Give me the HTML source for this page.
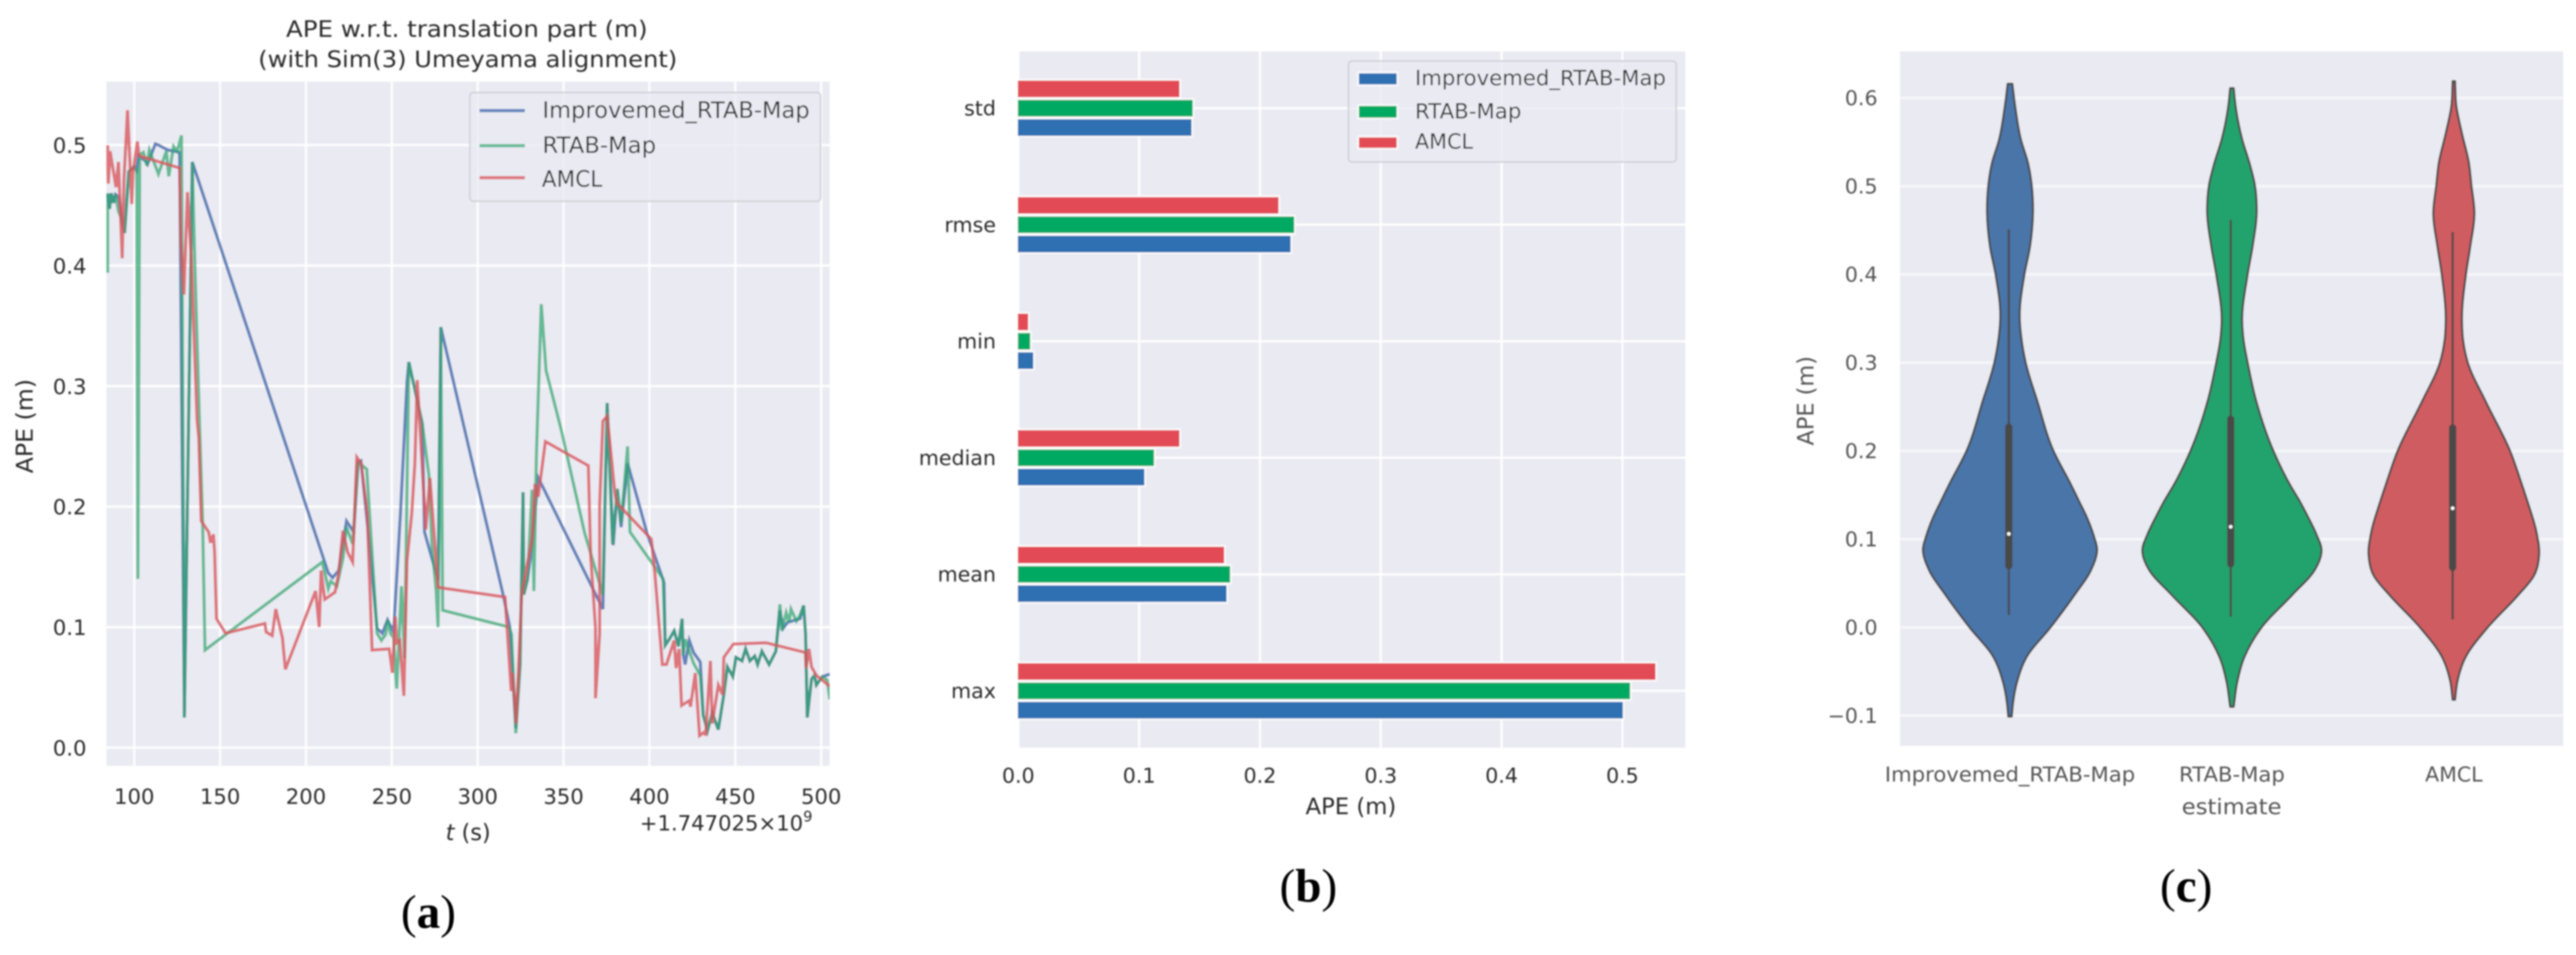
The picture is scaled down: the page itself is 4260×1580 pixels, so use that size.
<!DOCTYPE html>
<html lang="en">
<head>
<meta charset="utf-8">
<title>APE comparison charts</title>
<style>
html,body{margin:0;padding:0;background:#fff;width:4260px;height:1580px;overflow:hidden}
svg{display:block}
text{font-family:"DejaVu Sans","Liberation Sans",sans-serif;fill:#2a2a2a}
.c text,text.c{fill:#555}
.cap{font-family:"Liberation Serif",serif;font-size:78px;fill:#000}
</style>
</head>
<body>
<svg xmlns="http://www.w3.org/2000/svg" width="4260" height="1580" viewBox="0 0 4260 1580">
<defs>
<filter id="soft" filterUnits="userSpaceOnUse" x="0" y="0" width="4260" height="1580"><feGaussianBlur stdDeviation="1.2"/></filter>
<clipPath id="clipA"><rect x="176" y="135" width="1196" height="1132"/></clipPath>
</defs>
<g filter="url(#soft)">
<!-- chart a -->
<g>
<rect x="176" y="135" width="1196" height="1132" fill="#EAEAF2"/>
<g id="gridA"></g>
<g id="linesA" clip-path="url(#clipA)"></g>
<g id="ticksA"></g>
<text x="473" y="61" font-size="37" textLength="598" lengthAdjust="spacingAndGlyphs">APE w.r.t. translation part (m)</text>
<text x="427" y="111" font-size="37" textLength="693" lengthAdjust="spacingAndGlyphs">(with Sim(3) Umeyama alignment)</text>
<text transform="translate(54,783) rotate(-90)" font-size="38" textLength="156" lengthAdjust="spacingAndGlyphs">APE (m)</text>
<text x="737" y="1390" font-size="37"><tspan font-style="italic">t</tspan> (s)</text>
<text x="1058" y="1374" font-size="35">+1.747025×10<tspan font-size="24" dy="-15">9</tspan></text>
<g>
<rect x="777" y="153" width="580" height="180" rx="6" fill="#EAEAF2" fill-opacity="0.8" stroke="#cfcfd6" stroke-width="2.5"/>
<line x1="793" x2="868" y1="183" y2="183" stroke="#4C72B0" stroke-opacity="0.85" stroke-width="5.2"/>
<text x="897" y="195" font-size="37" textLength="442" lengthAdjust="spacingAndGlyphs">Improvemed_RTAB-Map</text>
<line x1="793" x2="868" y1="241" y2="241" stroke="#2CA56E" stroke-opacity="0.7" stroke-width="5.2"/>
<text x="897" y="253" font-size="37" textLength="188" lengthAdjust="spacingAndGlyphs">RTAB-Map</text>
<line x1="793" x2="868" y1="294" y2="294" stroke="#D9565C" stroke-opacity="0.8" stroke-width="5.2"/>
<text x="896" y="309" font-size="37" textLength="100" lengthAdjust="spacingAndGlyphs">AMCL</text>
</g>
</g>
<text class="cap" x="663" y="1535">(<tspan font-weight="bold">a</tspan>)</text>

<!-- chart b -->
<g>
<rect x="1684" y="85" width="1103" height="1152" fill="#EAEAF2"/>
<g id="gridB"></g>
<g id="barsB"></g>
<g id="ticksB"></g>
<text x="2159" y="1347" font-size="37" textLength="150" lengthAdjust="spacingAndGlyphs">APE (m)</text>
<g>
<rect x="2230" y="101" width="542" height="167" rx="6" fill="#EAEAF2" fill-opacity="0.8" stroke="#cfcfd6" stroke-width="2.5"/>
<rect x="2246" y="120" width="65" height="21" fill="#2E70B2" stroke="#fff" stroke-width="2.5"/>
<text x="2340" y="141" font-size="35" textLength="415" lengthAdjust="spacingAndGlyphs">Improvemed_RTAB-Map</text>
<rect x="2246" y="174" width="65" height="22" fill="#00A962" stroke="#fff" stroke-width="2.5"/>
<text x="2340" y="196" font-size="35" textLength="176" lengthAdjust="spacingAndGlyphs">RTAB-Map</text>
<rect x="2246" y="226" width="65" height="20" fill="#E24C54" stroke="#fff" stroke-width="2.5"/>
<text x="2340" y="246" font-size="35" textLength="96" lengthAdjust="spacingAndGlyphs">AMCL</text>
</g>
</g>
<text class="cap" x="2116" y="1492">(<tspan font-weight="bold">b</tspan>)</text>

<!-- chart c -->
<g class="c">
<rect x="3142" y="85" width="1097" height="1149" fill="#EAEAF2"/>
<g id="gridC"></g>
<g id="violinsC"></g>
<g id="ticksC"></g>
<text transform="translate(2999,737) rotate(-90)" font-size="37" textLength="148" lengthAdjust="spacingAndGlyphs">APE (m)</text>
<text x="3608" y="1347" font-size="36" textLength="165" lengthAdjust="spacingAndGlyphs">estimate</text>
</g>
<text class="cap" x="3572" y="1492">(<tspan font-weight="bold">c</tspan>)</text>
</g>
</svg>
<script>
// ---------- chart (a) data ----------
const aXTicks = [100,150,200,250,300,350,400,450,500];
const aYTicks = [0,0.1,0.2,0.3,0.4,0.5];

const improvedT = [84.5,85.6,86.6,88,89.1,90.8,94.4,96.8,100,101.4,102.5,106.3,107.7,109.9,112.3,114.1,119.4,126.4,129.2,133.8,213,215.5,219,223.6,227.8,230.4,232,236.6,241.4,244.4,247.5,251,255,258.8,259.9,267.7,269,276.9,278.5,314.8,318.7,322.2,324.7,326.4,326.8,328.9,331.7,335.2,336.3,372.9,375.4,378.9,381.3,383.5,387.3,398.6,408.5,409.2,411.6,414.4,416.9,419,419.7,420.8,423.2,425.7,429.6,431.3,433.8,436.6,440.1,443.3,445.4,448.6,450.4,453.9,456,458.5,461.3,463,465.5,469.7,473.6,476,477.8,480.5,487.7,489.8,490.9,491.9,494.4,496.1,497.2,500.7,505];
const improvedV = [.460,.447,.460,.452,.459,.457,.427,.478,.482,.479,.491,.487,.484,.492,.501,.500,.496,.494,.025,.486,.145,.141,.147,.188,.179,.237,.238,.174,.099,.095,.106,.096,.194,.303,.320,.269,.179,.139,.349,.127,.100,.016,.069,.212,.127,.139,.169,.224,.221,.115,.286,.168,.214,.183,.236,.178,.137,.085,.090,.097,.084,.107,.077,.069,.089,.079,.071,.027,.014,.029,.015,.044,.067,.059,.075,.072,.082,.072,.076,.069,.080,.069,.080,.114,.099,.104,.107,.118,.094,.025,.057,.060,.052,.059,.061];

const rtabT = [84.5,84.5,85.6,86.6,88,89.1,90.8,92.3,94.4,96.8,100,101.4,102.1,103.2,105.3,107.4,108.8,110.9,114.1,118.7,120.1,122.9,125,127.5,129.2,133.8,135.2,138,139.8,141.2,209.5,213,214.4,218,221.5,223.6,227.2,230.4,235.4,241.4,243.9,246.4,247.5,249.2,251,252.8,255.6,257.4,259.9,267.7,271.6,273.3,275.8,276.9,278.5,279.6,318.3,319.7,322.2,324.7,326.4,326.8,328.9,331.7,332.7,334.2,337,339.8,348.6,362.3,372.9,375.4,378.5,381.3,383.5,387.3,388.7,402.1,408,409.2,411.6,414.4,416.9,419,419.7,420.8,425.7,429.6,431.3,433.8,436.6,440.1,443.3,445.4,448.6,450.4,453.9,456,458.5,461.3,463,465.5,469.7,473.6,476,477.1,479.6,481.3,482.4,485.6,487.7,489.8,490.9,491.9,494.4,496.1,497.2,500.7,503.5,505];
const rtabV = [.394,.460,.447,.460,.452,.459,.445,.440,.427,.478,.482,.479,.140,.492,.494,.483,.496,.488,.476,.495,.474,.499,.495,.508,.025,.486,.405,.269,.189,.081,.154,.132,.138,.134,.157,.183,.169,.237,.231,.095,.089,.094,.106,.095,.091,.049,.134,.074,.320,.269,.226,.169,.130,.100,.349,.114,.100,.094,.012,.069,.212,.127,.139,.214,.130,.244,.368,.313,.264,.178,.127,.286,.169,.215,.186,.250,.179,.152,.140,.085,.090,.097,.084,.107,.077,.090,.070,.060,.027,.014,.029,.015,.044,.067,.059,.075,.072,.082,.072,.076,.069,.080,.069,.080,.119,.097,.112,.104,.115,.105,.110,.118,.094,.025,.057,.060,.052,.059,.056,.040];

const amclT = [84.5,84.9,85.9,89.4,90.8,93,94,96.1,98.6,99.3,101.8,102.8,126.4,127.1,128.9,131,133.1,136.6,137.6,139,143.3,144.4,146.1,146.8,147.9,153.2,176.1,176.8,180.3,182.4,186.3,188,205.6,207.7,208.8,210.9,216.9,219,221.5,224.3,227.2,229,229.6,232.1,235.7,238.5,248.5,250.3,252,252.8,254.6,257,258.8,261.6,263.4,264.8,269.8,272.2,276.9,315.9,319.5,320.2,322.4,325.6,331.7,333.4,335.2,339.4,364.4,365.8,368.6,368.6,371,371,372.9,375.4,379.9,381,401.1,403.2,407.5,409.9,414.4,415.5,417.3,418.7,423.2,423.9,426.7,429.2,432,432.7,435.5,436.6,440.1,442.6,443.3,448.9,467.9,490.8,491.2,492.9,494.4,497.2,505];
const amclV = [.500,.468,.495,.465,.486,.406,.471,.529,.451,.477,.503,.491,.481,.420,.376,.461,.410,.272,.257,.188,.179,.170,.177,.162,.107,.095,.103,.096,.093,.115,.091,.065,.130,.100,.147,.123,.129,.144,.180,.162,.154,.221,.241,.236,.193,.081,.082,.062,.109,.087,.089,.043,.155,.194,.236,.305,.181,.224,.133,.125,.047,.062,.020,.127,.174,.219,.208,.254,.234,.159,.099,.041,.094,.201,.271,.275,.211,.203,.173,.144,.069,.069,.089,.066,.082,.035,.039,.034,.062,.010,.013,.010,.072,.020,.052,.044,.075,.086,.087,.079,.066,.082,.067,.060,.051];

// ---------- chart (b) data ----------
const bCategories = ['std','rmse','min','median','mean','max'];
const bXTicks = [0,0.1,0.2,0.3,0.4,0.5];
const barImproved = [.144,.226,.013,.105,.173,.501];
const barRtab = [.145,.229,.0105,.113,.176,.507];
const barAmcl = [.134,.216,.0088,.134,.171,.528];

// ---------- chart (c) data ----------
const cCategories = ['Improvemed_RTAB-Map','RTAB-Map','AMCL'];
const cYTicks = [-0.1,0,0.1,0.2,0.3,0.4,0.5,0.6];
const violin1Levels = [.616,.588,.553,.526,.5,.47,.431,.4,.351,.327,.3,.257,.2,.163,.142,.125,.105,.089,.065,.037,0,-.033,-.061,-.086,-.101];
const violin1Density = [.027,.062,.123,.205,.247,.26,.226,.164,.11,.13,.178,.308,.493,.685,.788,.87,.945,.986,.918,.733,.459,.192,.082,.034,.02];
const violin2Levels = [.611,.588,.553,.526,.501,.473,.431,.4,.347,.327,.3,.257,.2,.163,.142,.125,.105,.089,.065,.037,0,-.033,-.061,-.09];
const violin2Density = [.02,.045,.116,.199,.26,.281,.233,.178,.116,.13,.178,.274,.47,.65,.774,.863,.959,1.014,.938,.685,.336,.144,.062,.02];
const violin3Levels = [.619,.592,.561,.526,.501,.47,.431,.4,.347,.327,.3,.257,.2,.163,.142,.107,.082,.058,.037,0,-.033,-.061,-.082];
const violin3Density = [.014,.027,.089,.171,.199,.233,.185,.137,.092,.103,.158,.356,.637,.767,.836,.938,.966,.904,.733,.384,.137,.041,.014];
const whiskerHigh = [.451,.462,.448];
const whiskerLow = [.014,.012,.009];
const boxHigh = [.227,.236,.226];
const boxLow = [.07,.072,.068];
const medians = [.106,.114,.135];

// ---------- helpers and axes ----------
const NS = 'http://www.w3.org/2000/svg';
function mk(tag, attrs, parent){
  const el = document.createElementNS(NS, tag);
  for (const k in attrs) el.setAttribute(k, attrs[k]);
  parent.appendChild(el);
  return el;
}
const xA = t => 222 + (t - 100) * 2.84;
const yA = v => 1237 - v * 1994;
const xB = v => 1684 + v * 1998;
const yB = i => 179 + i * 192.8;
const xC = i => 3324 + i * 367;
const yC = v => 1038 - v * 1460;
const halfC = d => d * 146;
const fmt1 = v => (v < 0 ? '\u2212' + Math.abs(v).toFixed(1) : v.toFixed(1));

// ---------- chart (a) ----------
const gridA = document.getElementById('gridA');
const ticksA = document.getElementById('ticksA');
aXTicks.forEach(t => {
  const g = mk('line',{x1:xA(t),x2:xA(t),y1:135,y2:1267,stroke:'#fff','stroke-width':3.5},gridA);
  
  
  const l = mk('text',{x:xA(t),y:1330,'font-size':35,'text-anchor':'middle'},ticksA);
  
  
  l.textContent = String(t);
});
aYTicks.forEach(v => {
  const g = mk('line',{x1:176,x2:1372,y1:yA(v),y2:yA(v),stroke:'#fff','stroke-width':3.5},gridA);
  
  
  const l = mk('text',{x:143,y:yA(v)+13,'font-size':35,'text-anchor':'end'},ticksA);
  
  
  l.textContent = v.toFixed(1);
});
const linesA = document.getElementById('linesA');
function drawLine(ts, vs, color, op){
  const pts = ts.map((t,i) => xA(t).toFixed(1) + ',' + yA(vs[i]).toFixed(1)).join(' ');
  return mk('polyline',{points:pts,fill:'none',stroke:color,'stroke-opacity':op,'stroke-width':5.2,'stroke-linejoin':'miter','stroke-miterlimit':4},linesA);
}
const lineImproved = drawLine(improvedT, improvedV, '#4C72B0', 0.85);


const lineRtab = drawLine(rtabT, rtabV, '#2CA56E', 0.7);


const lineAmcl = drawLine(amclT, amclV, '#D9565C', 0.8);



// ---------- chart (b) ----------
const gridB = document.getElementById('gridB');
const barsB = document.getElementById('barsB');
const ticksB = document.getElementById('ticksB');
bXTicks.forEach(v => {
  const g = mk('line',{x1:xB(v),x2:xB(v),y1:85,y2:1237,stroke:'#fff','stroke-width':3.5},gridB);
  
  
  const l = mk('text',{x:xB(v),y:1295,'font-size':34,'text-anchor':'middle'},ticksB);
  
  
  l.textContent = v.toFixed(1);
});
bCategories.forEach((c,i) => {
  const g = mk('line',{x1:1684,x2:2787,y1:yB(i),y2:yB(i),stroke:'#fff','stroke-width':3.5},gridB);
  
  
  const l = mk('text',{x:1647,y:yB(i)+12,'font-size':34,'text-anchor':'end'},ticksB);
  
  
  l.textContent = c;
  const r = mk('rect',{x:xB(0)-2,y:yB(i)-47,width:xB(barAmcl[i])-xB(0)+2,height:30,fill:'#E24C54',stroke:'#fff','stroke-width':2.5},barsB);
  
  
  const gb = mk('rect',{x:xB(0)-2,y:yB(i)-15,width:xB(barRtab[i])-xB(0)+2,height:30,fill:'#00A962',stroke:'#fff','stroke-width':2.5},barsB);
  
  
  const b = mk('rect',{x:xB(0)-2,y:yB(i)+17,width:xB(barImproved[i])-xB(0)+2,height:30,fill:'#2E70B2',stroke:'#fff','stroke-width':2.5},barsB);
  
  
});

// ---------- chart (c) ----------
const gridC = document.getElementById('gridC');
const violinsC = document.getElementById('violinsC');
const ticksC = document.getElementById('ticksC');
cYTicks.forEach(v => {
  const g = mk('line',{x1:3142,x2:4239,y1:yC(v),y2:yC(v),stroke:'#f6f6f9','stroke-width':4.5},gridC);
  
  
  const l = mk('text',{x:3105,y:yC(v)+12,'font-size':34,'text-anchor':'end'},ticksC);
  
  
  l.textContent = fmt1(v);
});
const cLabelWidths = [414,175,95];
cCategories.forEach((c,i) => {
  const l = mk('text',{x:xC(i),y:1293,'font-size':34,'text-anchor':'middle',textLength:cLabelWidths[i],lengthAdjust:'spacingAndGlyphs'},ticksC);
  
  
  l.textContent = c;
});
// Hermite spline with x as a function of y, tolerant of uneven level spacing
function slopes(pts){
  return pts.map((p,i) => {
    if (i === 0) return (pts[1][0]-p[0])/(pts[1][1]-p[1]);
    if (i === pts.length-1) return (p[0]-pts[i-1][0])/(p[1]-pts[i-1][1]);
    const h0 = p[1]-pts[i-1][1], h1 = pts[i+1][1]-p[1];
    const s0 = (p[0]-pts[i-1][0])/h0, s1 = (pts[i+1][0]-p[0])/h1;
    return (s0*h1 + s1*h0)/(h0+h1);
  });
}
function spline(pts){
  const m = slopes(pts);
  let d = '';
  for (let i = 0; i < pts.length - 1; i++){
    const h = (pts[i+1][1]-pts[i][1])/3;
    d += ' C' + (pts[i][0]+m[i]*h).toFixed(1)+','+(pts[i][1]+h).toFixed(1)+' '+
         (pts[i+1][0]-m[i+1]*h).toFixed(1)+','+(pts[i+1][1]-h).toFixed(1)+' '+
         pts[i+1][0].toFixed(1)+','+pts[i+1][1].toFixed(1);
  }
  return d;
}
function violinPath(i, levels, density){
  const right = levels.map((v,k) => [xC(i)+halfC(density[k]), yC(v)]);
  const left = levels.map((v,k) => [xC(i)-halfC(density[k]), yC(v)]).reverse();
  return 'M' + right[0][0].toFixed(1) + ',' + right[0][1].toFixed(1) + spline(right) +
         ' L' + left[0][0].toFixed(1) + ',' + left[0][1].toFixed(1) + spline(left) + ' Z';
}
const violinColors = ['#4975A9','#24A26C','#CE5B60'];
const violinLevels = [violin1Levels, violin2Levels, violin3Levels];
const violinDensity = [violin1Density, violin2Density, violin3Density];
violinColors.forEach((col,i) => {
  const body = mk('path',{d:violinPath(i,violinLevels[i],violinDensity[i]),fill:col,stroke:'#4a4a4a','stroke-width':3.5,'stroke-linejoin':'round'},violinsC);
  
  
  const wh = mk('line',{x1:xC(i)-2,x2:xC(i)-2,y1:yC(whiskerHigh[i]),y2:yC(whiskerLow[i]),stroke:'#4a4a4a','stroke-width':3.5},violinsC);
  
  
  const bx = mk('line',{x1:xC(i)-2,x2:xC(i)-2,y1:yC(boxHigh[i]),y2:yC(boxLow[i]),stroke:'#4a4a4a','stroke-width':12,'stroke-linecap':'round'},violinsC);
  
  
  const md = mk('circle',{cx:xC(i)-2,cy:yC(medians[i]),r:3,fill:'#fff'},violinsC);
  
  
});
</script>
</body>
</html>
